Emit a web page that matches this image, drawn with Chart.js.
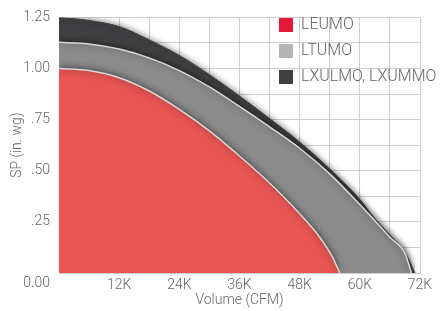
<!DOCTYPE html>
<html>
<head>
<meta charset="utf-8">
<script src="https://cdn.jsdelivr.net/npm/chart.js@4.4.1/dist/chart.umd.min.js"></script>
<style>
  body { margin: 0; background: #fff; }
</style>
</head>
<body>
<canvas id="fanChart" width="446" height="311"></canvas>
<script>
// Fan performance curves - static pressure vs airflow

const seriesNames = ['LEUMO', 'LTUMO', 'LXULMO, LXUMMO'];

// LEUMO
const leumoCfm = [0, 6000, 12000, 18000, 24000, 30000, 36000, 42000, 48000, 52000, 54500, 56000];
const leumoSp  = [1.00, 0.99, 0.955, 0.89, 0.80, 0.695, 0.572, 0.44, 0.29, 0.175, 0.08, 0];

// LTUMO
const ltumoCfm = [0, 6000, 12000, 18000, 24000, 30000, 36000, 42000, 48000, 54000, 60000, 63000, 66000, 69000, 70300];
const ltumoSp  = [1.128, 1.12, 1.095, 1.052, 0.99, 0.91, 0.815, 0.715, 0.61, 0.485, 0.335, 0.255, 0.175, 0.096, 0];

// LXULMO, LXUMMO
const lxCfm = [0, 6000, 12000, 18000, 24000, 30000, 36000, 42000, 48000, 54000, 60000, 63000, 66000, 69000, 71000];
const lxSp  = [1.25, 1.235, 1.205, 1.14, 1.064, 0.97, 0.865, 0.755, 0.64, 0.508, 0.36, 0.265, 0.185, 0.10, 0];

// axis ticks
const cfmTicks = [12000, 24000, 36000, 48000, 60000, 72000];
const spTicks = { 1.25: '1.25', 1: '1.00', 0.75: '.75', 0.5: '.50', 0.25: '.25' };

const fillColors = ['#e85553', '#8b8b8b', '#404043'];
const legendColors = ['#e3173a', '#b5b5b8', '#404043'];
const textColor = '#666';

function toPoints(xs, ys) {
  return xs.map((x, i) => ({ x: x, y: ys[i] }));
}

// soft shadow round each filled curve
const curveShadow = {
  id: 'curveShadow',
  beforeDatasetsDraw(chart) {
    const ctx = chart.ctx;
    ctx.save();
    ctx.shadowColor = 'rgba(0,0,0,0.55)';
    ctx.shadowBlur = 7;
  },
  afterDatasetsDraw(chart) {
    chart.ctx.restore();
  }
};

// legend sits inside the plot, top right
const legendInside = {
  id: 'legendInside',
  afterLayout(chart) {
    const lg = chart.legend;
    lg.left = 269;
    lg.top = 7;
    lg.right = chart.width;
    lg.bottom = chart.chartArea.bottom;
  }
};

// the zero label sits a little under the axis line
const zeroLabel = {
  id: 'zeroLabel',
  afterDraw(chart) {
    const y = chart.scales.y;
    const ctx = chart.ctx;
    ctx.save();
    ctx.font = '300 14px Roboto';
    ctx.fillStyle = textColor;
    ctx.textAlign = 'right';
    ctx.textBaseline = 'middle';
    ctx.fillText('0.00', y.right - 9, y.getPixelForValue(0) + 10);
    ctx.restore();
  }
};

const ctx = document.getElementById('fanChart');
new Chart(ctx, {
  type: 'line',
  data: {
    datasets: [
      { label: seriesNames[0], data: toPoints(leumoCfm, leumoSp), backgroundColor: fillColors[0], borderColor: '#d8d8d8', borderWidth: 1.5, fill: 'origin' },
      { label: seriesNames[1], data: toPoints(ltumoCfm, ltumoSp), backgroundColor: fillColors[1], borderColor: '#d8d8d8', borderWidth: 1.5, fill: 'origin' },
      { label: seriesNames[2], data: toPoints(lxCfm, lxSp), backgroundColor: fillColors[2], borderColor: fillColors[2], borderWidth: 1, fill: 'origin' }
    ]
  },
  options: {
    responsive: false,
    animation: false,
    layout: { padding: { top: 13, right: 26, left: 0, bottom: 0 } },
    elements: {
      point: { radius: 0 },
      line: { cubicInterpolationMode: 'monotone' }
    },
    scales: {
      x: {
        type: 'linear',
        min: 0,
        max: 72000,
        z: 1,
        border: { display: false },
        grid: { color: 'rgba(190,190,190,0.75)', drawTicks: false },
        ticks: {
          stepSize: 6000,
          padding: 4,
          autoSkip: false,
          maxRotation: 0,
          minRotation: 0,
          color: textColor,
          font: { family: 'Roboto', size: 14, weight: '300' },
          callback: function(value) {
            return cfmTicks.includes(value) ? (value / 1000) + 'K' : '';
          }
        },
        title: {
          display: true,
          text: 'Volume (CFM)',
          color: textColor,
          font: { family: 'Roboto', size: 14, weight: '300' },
          padding: { top: 0, bottom: 2 }
        },
        afterFit: function(scale) { scale.height = 38; }
      },
      y: {
        min: 0,
        max: 1.25,
        z: 1,
        border: { display: false },
        grid: { color: 'rgba(190,190,190,0.75)', drawTicks: false },
        ticks: {
          stepSize: 0.125,
          padding: 9,
          autoSkip: false,
          color: textColor,
          font: { family: 'Roboto', size: 14, weight: '300' },
          callback: function(value) {
            return spTicks[value] || '';
          }
        },
        title: {
          display: true,
          text: 'SP (in. wg)',
          color: textColor,
          font: { family: 'Roboto', size: 14, weight: '300' },
          padding: { top: 9, bottom: 4 }
        },
        afterFit: function(scale) { scale.width = 59; }
      }
    },
    plugins: {
      legend: {
        position: 'chartArea',
        align: 'start',
        labels: {
          boxWidth: 14,
          boxHeight: 14,
          padding: 10,
          color: textColor,
          font: { family: 'Roboto', size: 16, weight: '300' },
          generateLabels: function(chart) {
            return chart.data.datasets.map(function(ds, i) {
              return {
                text: ds.label,
                fillStyle: legendColors[i],
                strokeStyle: legendColors[i],
                lineWidth: 0,
                fontColor: textColor,
                hidden: false,
                datasetIndex: i
              };
            });
          }
        }
      },
      tooltip: { enabled: false }
    }
  },
  plugins: [curveShadow, legendInside, zeroLabel]
});
</script>
</body>
</html>
